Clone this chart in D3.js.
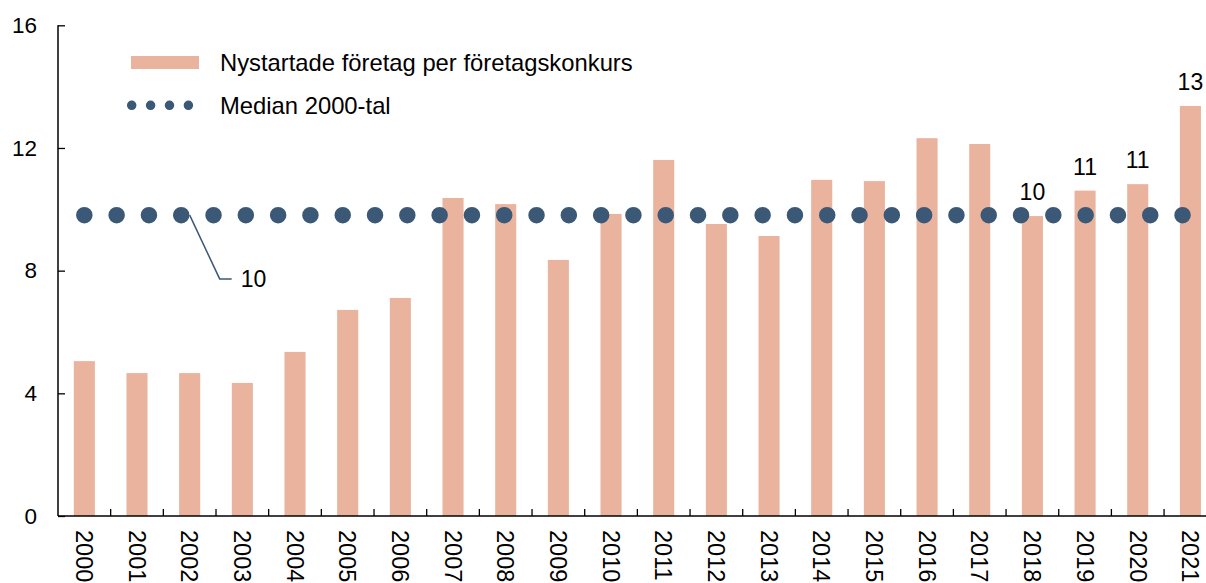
<!DOCTYPE html>
<html>
<head>
<meta charset="utf-8">
<script src="https://cdn.jsdelivr.net/npm/d3@7"></script>
<style>
  body { margin: 0; background: #fff; }
  svg text { font-family: "Liberation Sans", Arial, sans-serif; fill: #000; }
</style>
</head>
<body>
<svg id="chart" width="1206" height="583"></svg>
<script>
// data
var years   = ["2000","2001","2002","2003","2004","2005","2006","2007","2008","2009","2010",
               "2011","2012","2013","2014","2015","2016","2017","2018","2019","2020","2021"];
var ratio   = [5.05, 4.66, 4.66, 4.34, 5.35, 6.72, 7.11, 10.37, 10.17, 8.35, 9.85,
               11.61, 9.52, 9.13, 10.96, 10.92, 12.32, 12.13, 9.78, 10.61, 10.82, 13.37];
var median  = 9.81;
var yTicks  = [0, 4, 8, 12, 16];
var labelled = ["2018","2019","2020","2021"];
var seriesNames = ["Nystartade företag per företagskonkurs", "Median 2000-tal"];

var barColor = "#eab39d";
var dotColor = "#3b5876";

var svg = d3.select("#chart");

// scales
var x = d3.scaleBand().domain(years).range([58, 58 + 22 * 52.67]).padding(0);
var y = d3.scaleLinear().domain([0, 16]).range([516, 25.3]);
var xc = function(d){ return x(d) + x.bandwidth() / 2; };
var barW = x.bandwidth() * 0.4;

// bars
svg.append("g").selectAll("rect")
    .data(years)
    .enter().append("rect")
    .attr("x", function(d){ return xc(d) - barW / 2; })
    .attr("y", function(d, i){ return y(ratio[i]); })
    .attr("width", barW)
    .attr("height", function(d, i){ return y(0) - y(ratio[i]); })
    .attr("fill", barColor);

// median as dotted line
var medLine = d3.line()
    .x(function(d){ return xc(d); })
    .y(function(){ return y(median); });

svg.append("path")
    .datum(years)
    .attr("d", medLine)
    .attr("fill", "none")
    .attr("stroke", dotColor)
    .attr("stroke-width", 16.5)
    .attr("stroke-linecap", "round")
    .attr("stroke-dasharray", "0 32.3");

// axes
var yAxis = d3.axisLeft(y).tickValues(yTicks).tickSize(-7).tickPadding(21);
var gy = svg.append("g").attr("transform", "translate(58,0)").call(yAxis);
gy.selectAll("text").style("font-size", "22.5px");

var xAxis = d3.axisBottom(x).tickSize(-7).tickFormat("");
var gx = svg.append("g").attr("transform", "translate(0,516)").call(xAxis);
// ticks sit on band edges, not centres
gx.selectAll(".tick").attr("transform", function(d){ return "translate(" + (x(d) + x.bandwidth()) + ",0)"; });

svg.selectAll(".domain").attr("stroke", "#000").attr("stroke-width", 1.5);
svg.selectAll(".tick line").attr("stroke", "#000").attr("stroke-width", 1.3);
gx.select(".domain").attr("d", "M58,0H1216");
gy.select(".domain").attr("d", "M0," + y(16) + "V" + y(0));

// year labels, rotated
svg.append("g").selectAll("text")
    .data(years)
    .enter().append("text")
    .attr("transform", function(d){ return "translate(" + xc(d) + ",530) rotate(90)"; })
    .attr("dy", "0.35em")
    .style("font-size", "23.5px")
    .text(function(d){ return d; });

// data labels for the last years
svg.append("g").selectAll("text")
    .data(labelled)
    .enter().append("text")
    .attr("x", function(d){ return xc(d); })
    .attr("y", function(d){ return y(ratio[years.indexOf(d)]) - 16; })
    .attr("text-anchor", "middle")
    .style("font-size", "23px")
    .text(function(d){ return Math.round(ratio[years.indexOf(d)]); });

// median annotation with leader line
var ax = xc("2002"), ay = y(median);
svg.append("path")
    .attr("d", "M" + ax + "," + ay + "L" + (ax + 30) + "," + y(7.73) + "H" + (ax + 42))
    .attr("fill", "none")
    .attr("stroke", dotColor)
    .attr("stroke-width", 1.5);
svg.append("text")
    .attr("x", ax + 51)
    .attr("y", y(7.73))
    .attr("dy", "0.35em")
    .style("font-size", "23px")
    .text(Math.round(median));

// legend
var lg = svg.append("g");
lg.append("rect")
    .attr("x", 131).attr("y", 56).attr("width", 68).attr("height", 13)
    .attr("fill", barColor);
lg.append("line")
    .attr("x1", 131.7).attr("x2", 189).attr("y1", 105.3).attr("y2", 105.3)
    .attr("stroke", dotColor)
    .attr("stroke-width", 9.5)
    .attr("stroke-linecap", "round")
    .attr("stroke-dasharray", "0 18.9");
lg.selectAll("text")
    .data(seriesNames)
    .enter().append("text")
    .attr("x", 220)
    .attr("y", function(d, i){ return 62.5 + i * 42.8; })
    .attr("dy", "0.35em")
    .style("font-size", "23.8px")
    .text(function(d){ return d; });
</script>
</body>
</html>
